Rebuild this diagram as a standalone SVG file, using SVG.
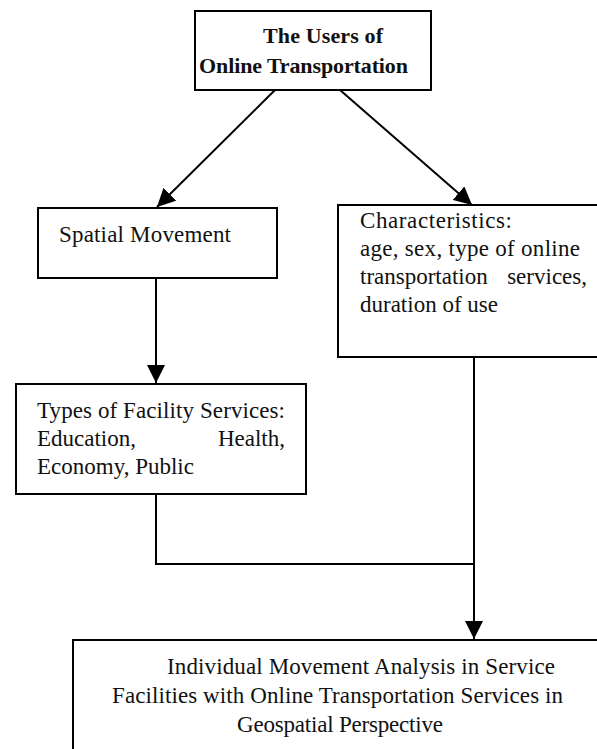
<svg xmlns="http://www.w3.org/2000/svg" width="597" height="749" viewBox="0 0 597 749">
<style>
.box{fill:#fff;stroke:#000;stroke-width:2}
.ln{fill:none;stroke:#000;stroke-width:2}
text{font-family:"Liberation Serif","Times New Roman",serif;font-size:23px;fill:#111}
.b{font-weight:bold;font-size:22px}
</style>
<defs>
<marker id="ah" markerUnits="userSpaceOnUse" markerWidth="18" markerHeight="18" viewBox="0 0 16 16" refX="16" refY="8" orient="auto">
<path d="M0,0 L16,8 L0,16 Z" fill="#000"/>
</marker>
</defs>
<g id="connectors">
<line class="ln" x1="275" y1="90" x2="157" y2="207" marker-end="url(#ah)"/>
<line class="ln" x1="340" y1="90" x2="472" y2="205" marker-end="url(#ah)"/>
<line class="ln" x1="156" y1="278" x2="156" y2="383" marker-end="url(#ah)"/>
<polyline class="ln" points="156,494 156,564 474,564"/>
<line class="ln" x1="474" y1="357" x2="474" y2="639" marker-end="url(#ah)"/>
</g>
<g id="users">
<rect class="box" x="195" y="11" width="236" height="79"/>
<text class="b" x="263" y="43" textLength="120">The Users of</text>
<text class="b" x="199" y="73" textLength="209">Online Transportation</text>
</g>
<g id="spatial">
<rect class="box" x="38" y="208" width="239" height="70"/>
<text x="59" y="242" textLength="172">Spatial Movement</text>
</g>
<g id="characteristics">
<rect class="box" x="338" y="205" width="260" height="152"/>
<text x="360" y="228" textLength="152">Characteristics:</text>
<text x="360" y="256" textLength="220">age, sex, type of online</text>
<text x="360" y="284">transportation</text>
<text x="587" y="284" text-anchor="end">services,</text>
<text x="360" y="312">duration of use</text>
</g>
<g id="facility">
<rect class="box" x="16" y="384" width="290" height="110"/>
<text x="37" y="418" textLength="248">Types of Facility Services:</text>
<text x="37" y="446">Education,</text>
<text x="285" y="446" text-anchor="end">Health,</text>
<text x="37" y="474">Economy, Public</text>
</g>
<g id="analysis">
<rect class="box" x="73" y="640" width="540" height="130"/>
<text x="167" y="674" textLength="388">Individual Movement Analysis in Service</text>
<text x="112" y="703" textLength="451">Facilities with Online Transportation Services in</text>
<text x="237" y="732" textLength="206">Geospatial Perspective</text>
</g>
</svg>
